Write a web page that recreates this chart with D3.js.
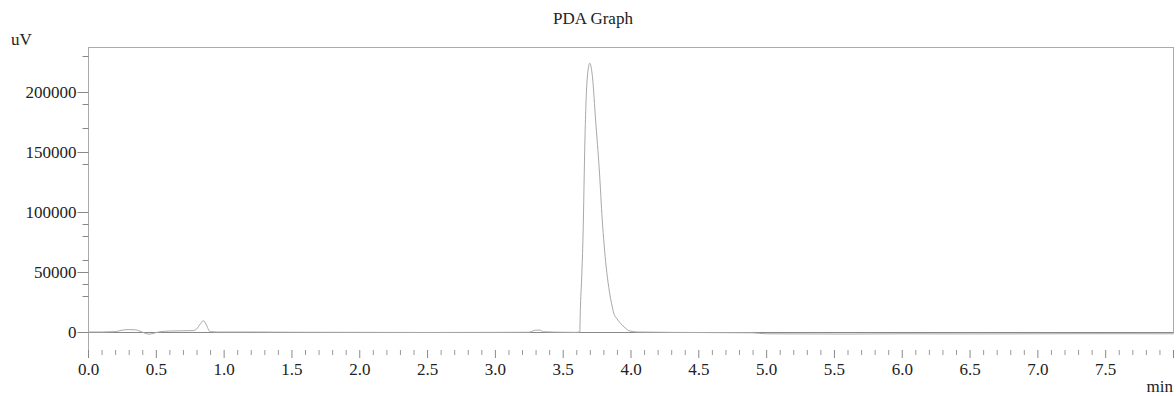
<!DOCTYPE html>
<html>
<head>
<meta charset="utf-8">
<script src="https://cdn.jsdelivr.net/npm/d3@7"></script>
<style>
  html, body { margin: 0; padding: 0; background: #fff; }
</style>
</head>
<body>
<svg id="chart" width="1176" height="396"></svg>
<script>
// Retention time (min) and detector response (uV) of the PDA trace
const times = [0.00, 0.10, 0.20, 0.25, 0.30, 0.35, 0.38, 0.42, 0.45, 0.48, 0.52, 0.60, 0.70, 0.78,
  0.80, 0.83, 0.85, 0.87, 0.90, 0.95, 1.20, 1.50, 2.00, 2.50, 3.00, 3.25, 3.30, 3.33, 3.36, 3.50,
  3.60, 3.626, 3.63, 3.64, 3.65, 3.664, 3.68, 3.70, 3.72, 3.743, 3.77, 3.792, 3.82, 3.84, 3.86,
  3.877, 3.90, 3.927, 3.96, 3.99, 4.05, 4.30, 4.60, 4.90, 5.00, 5.30, 5.60, 6.00, 6.50, 7.00, 7.50, 8.00];
const signal = [0, 0, 300, 1500, 2000, 1800, 800, -1000, -1800, -1200, 0, 800, 1000, 1200,
  2500, 7000, 9500, 6500, 300, 0, 0, -200, -300, -400, -300, -200, 1500, 1600, 200, -200,
  -300, 0, 18000, 45000, 80000, 160000, 210000, 224000, 212000, 176000, 135000, 93000, 55000, 37000, 24000,
  15500, 11000, 7200, 3500, 1000, 0, -300, -500, -700, -1500, -1600, -1700, -1500, -1600, -1500, -1400, -1500];

// Axis ticks
const xMajorTicks = [0.0, 0.5, 1.0, 1.5, 2.0, 2.5, 3.0, 3.5, 4.0, 4.5, 5.0, 5.5, 6.0, 6.5, 7.0, 7.5];
const xLastTick = 8.0;
const yMajorTicks = [0, 50000, 100000, 150000, 200000];
const yMinorTicks = [30000, 40000, 60000, 80000, 90000, 140000, 170000, 190000, 230000];

const FONT = '"Liberation Serif", "DejaVu Serif", "Noto Serif", serif';
const svg = d3.select("#chart");
const plotLeft = 88, plotRight = 1173, plotTop = 47, plotBottom = 350;

const x = d3.scaleLinear().domain([0, 8.0]).range([plotLeft, plotRight]);
const y = d3.scaleLinear().domain([-15000, 237500]).range([plotBottom, plotTop]);

function label(sel) {
  return sel.attr("font-family", null).style("font-family", FONT).style("font-size", "17px").style("fill", "#222");
}

// Title and unit labels
label(svg.append("text").attr("x", 593).attr("y", 24).attr("text-anchor", "middle").text("PDA Graph"));
label(svg.append("text").attr("x", 11).attr("y", 45).text("uV"));
label(svg.append("text").attr("x", 1173).attr("y", 392).attr("text-anchor", "end").text("min"));

// Frame: top and right borders, left axis line
const frame = svg.append("g").attr("stroke", "#aaa").attr("stroke-width", 1).attr("fill", "none");
frame.append("line").attr("x1", plotLeft).attr("x2", plotRight + 0.5).attr("y1", plotTop + 0.5).attr("y2", plotTop + 0.5);
frame.append("line").attr("x1", plotRight + 0.5).attr("x2", plotRight + 0.5).attr("y1", plotTop).attr("y2", y(-1500));
frame.append("line").attr("x1", plotLeft + 0.5).attr("x2", plotLeft + 0.5).attr("y1", plotTop).attr("y2", plotBottom + 8);

// Y axis: major ticks with labels, minor ticks without
const yAxis = svg.append("g").attr("transform", `translate(${plotLeft + 0.5},0)`)
  .call(d3.axisLeft(y).tickValues(yMajorTicks).tickSize(11).tickPadding(1).tickFormat(d3.format("d")))
  .attr("font-family", null);
yAxis.select(".domain").remove();
yAxis.selectAll(".tick line").attr("stroke", "#888");
label(yAxis.selectAll(".tick text"));

const yMinor = svg.append("g").attr("transform", `translate(${plotLeft + 0.5},0)`)
  .call(d3.axisLeft(y).tickValues(yMinorTicks).tickSize(6).tickFormat(""));
yMinor.select(".domain").remove();
yMinor.selectAll(".tick line").attr("stroke", "#888");

// X axis: ticks only, no axis line
const xMinorVals = d3.range(0, 81).map(i => i / 10).filter(v => Math.abs(v * 2 - Math.round(v * 2)) > 1e-6);
const xMinor = svg.append("g").attr("transform", `translate(0,${plotBottom})`)
  .call(d3.axisBottom(x).tickValues(xMinorVals).tickSize(5).tickFormat(""));
xMinor.select(".domain").remove();
xMinor.selectAll(".tick line").attr("stroke", "#999");

const xAxis = svg.append("g").attr("transform", `translate(0,${plotBottom})`)
  .call(d3.axisBottom(x).tickValues(xMajorTicks.concat([xLastTick])).tickSize(8).tickPadding(5)
    .tickFormat(d => d === xLastTick ? "" : d3.format(".1f")(d)))
  .attr("font-family", null);
xAxis.select(".domain").remove();
xAxis.selectAll(".tick line").attr("stroke", "#888");
label(xAxis.selectAll(".tick text"));

// Zero baseline
svg.append("line").attr("x1", plotLeft).attr("x2", plotRight)
  .attr("y1", Math.round(y(0)) + 0.5).attr("y2", Math.round(y(0)) + 0.5)
  .attr("stroke", "#888").attr("stroke-width", 1);

// Chromatogram trace
const data = times.map((t, i) => ({ t, v: signal[i] }));
svg.append("path").datum(data)
  .attr("fill", "none").attr("stroke", "#a8a8a8").attr("stroke-width", 1)
  .attr("d", d3.line().x(d => x(d.t)).y(d => y(d.v)).curve(d3.curveMonotoneX));
</script>
</body>
</html>
